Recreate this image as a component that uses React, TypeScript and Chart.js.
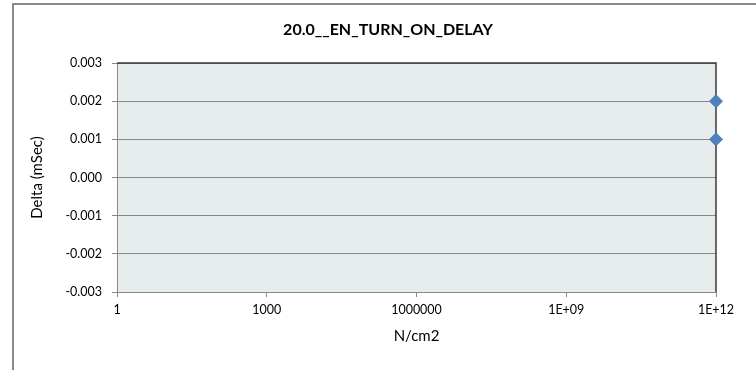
import React, { useEffect, useRef } from "react";
import { Chart, registerables } from "chart.js";

Chart.register(...registerables);

const chartTitle = "20.0__EN_TURN_ON_DELAY";
const xAxisTitle = "N/cm2";
const yAxisTitle = "Delta (mSec)";
const xTickValues = [1, 1e3, 1e6, 1e9, 1e12];
const xTickLabels = ["1", "1000", "1000000", "1E+09", "1E+12"];
const yTickValues = [-0.003, -0.002, -0.001, 0, 0.001, 0.002, 0.003];
const yTickLabels = ["-0.003", "-0.002", "-0.001", "0.000", "0.001", "0.002", "0.003"];
const xValues = [1e12, 1e12];
const yValues = [0.002, 0.001];

const FONT = "Lato, 'Open Sans', sans-serif";

const decorPlugin = {
  id: "decor",
  beforeDraw(chart: any) {
    const { ctx, chartArea } = chart;
    ctx.save();
    ctx.fillStyle = "#ffffff";
    ctx.fillRect(0, 0, chart.width, chart.height);
    ctx.strokeStyle = "#8a8a8a";
    ctx.lineWidth = 2;
    ctx.beginPath();
    ctx.moveTo(13, 400);
    ctx.lineTo(13, 4);
    ctx.lineTo(800, 4);
    ctx.stroke();
    ctx.fillStyle = "#E6ECEC";
    ctx.fillRect(chartArea.left, chartArea.top, chartArea.right - chartArea.left, chartArea.bottom - chartArea.top);
    ctx.fillStyle = "#000";
    ctx.font = `bold 16px ${FONT}`;
    ctx.textAlign = "center";
    ctx.textBaseline = "middle";
    ctx.fillText(chartTitle, 388, 30);
    ctx.restore();
  },
  beforeDatasetsDraw(chart: any) {
    const { ctx, chartArea } = chart;
    ctx.save();
    ctx.strokeStyle = "#3a3a3a";
    ctx.lineWidth = 1.5;
    ctx.beginPath();
    ctx.moveTo(chartArea.left, chartArea.top);
    ctx.lineTo(chartArea.right, chartArea.top);
    ctx.lineTo(chartArea.right, chartArea.bottom);
    ctx.stroke();
    ctx.restore();
  },
};

export default function App() {
  const ref = useRef<HTMLCanvasElement>(null);
  useEffect(() => {
    if (!ref.current) return;
    const chart = new Chart(ref.current, {
      type: "scatter",
      data: {
        datasets: [
          {
            label: "Delta",
            data: xValues.map((x, i) => ({ x, y: yValues[i] })),
            pointStyle: "rectRot",
            pointRadius: 6.5,
            pointHoverRadius: 6.5,
            backgroundColor: "#4F81BD",
            borderColor: "#4A7EBB",
            borderWidth: 1,
            clip: false,
          } as any,
        ],
      },
      options: {
        animation: false,
        responsive: false,
        devicePixelRatio: 1,
        layout: { padding: { top: 63, right: 40, left: 0, bottom: 0 } },
        plugins: {
          legend: { display: false },
          title: { display: false },
          tooltip: { enabled: false },
        },
        scales: {
          x: {
            type: "logarithmic",
            min: 1,
            max: 1e12,
            afterBuildTicks: (s: any) => {
              s.ticks = xTickValues.map((v) => ({ value: v }));
            },
            afterFit: (s: any) => {
              s.height = 78;
            },
            ticks: {
              autoSkip: false,
              maxRotation: 0,
              padding: 5,
              color: "#000",
              font: { family: FONT, size: 12.5 },
              callback: (_v: any, i: number) => xTickLabels[i],
            },
            grid: { drawOnChartArea: false, drawTicks: true, tickLength: 5, color: "#888888" },
            border: { display: true, color: "#888888", width: 1 },
            title: {
              display: true,
              text: xAxisTitle,
              color: "#000",
              font: { family: FONT, size: 15 },
              padding: { top: 25, bottom: 25 },
            },
          },
          y: {
            type: "linear",
            min: -0.003,
            max: 0.003,
            afterBuildTicks: (s: any) => {
              s.ticks = yTickValues.map((v) => ({ value: v }));
            },
            afterFit: (s: any) => {
              s.width = 117;
            },
            ticks: {
              autoSkip: false,
              padding: 10,
              color: "#000",
              font: { family: FONT, size: 12.5 },
              callback: (_v: any, i: number) => yTickLabels[i],
            },
            grid: { drawOnChartArea: true, drawTicks: true, tickLength: 5, color: "#888888" },
            border: { display: true, color: "#888888", width: 1 },
            title: {
              display: true,
              text: yAxisTitle,
              color: "#000",
              font: { family: FONT, size: 15 },
              padding: { top: 28, bottom: 28 },
            },
          },
        },
      },
      plugins: [decorPlugin],
    });
    return () => chart.destroy();
  }, []);
  return (
    <div style={{ position: "absolute", left: 0, top: 0, width: 756, height: 370 }}>
      <canvas ref={ref} width={756} height={370} style={{ display: "block" }} />
    </div>
  );
}
